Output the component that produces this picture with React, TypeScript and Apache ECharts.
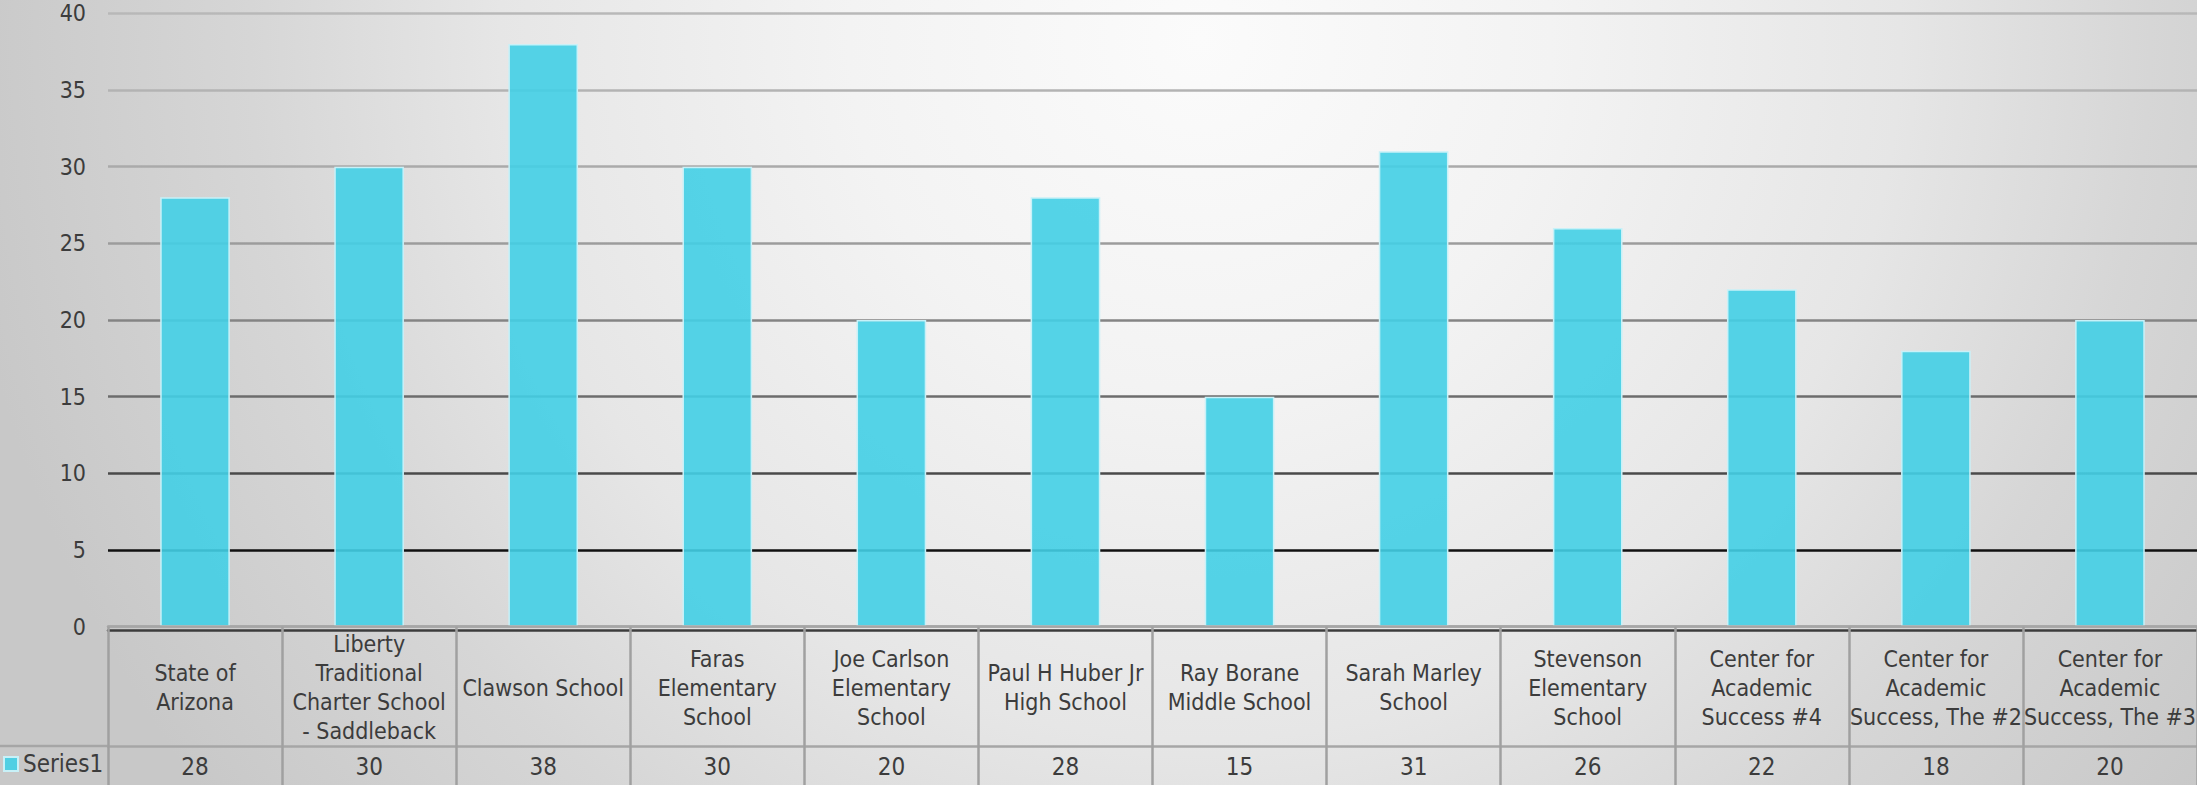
import React, { useEffect, useRef } from 'react';
import * as echarts from 'echarts';

// ---- data ----
const categories = [
  'State of\nArizona',
  'Liberty\nTraditional\nCharter School\n- Saddleback',
  'Clawson School',
  'Faras\nElementary\nSchool',
  'Joe Carlson\nElementary\nSchool',
  'Paul H Huber Jr\nHigh School',
  'Ray Borane\nMiddle School',
  'Sarah Marley\nSchool',
  'Stevenson\nElementary\nSchool',
  'Center for\nAcademic\nSuccess #4',
  'Center for\nAcademic\nSuccess, The #2',
  'Center for\nAcademic\nSuccess, The #3',
];
const values = [28, 30, 38, 30, 20, 28, 15, 31, 26, 22, 18, 20];
const seriesName = 'Series1';
const yMin = 0;
const yMax = 40;
const yStep = 5;
// gridline colours from value 0 upward
const gridColors = ['#a8a8a8', '#111111', '#4a4a4a', '#6c6c6c', '#848484', '#9c9c9c', '#aaaaaa', '#b3b3b3', '#b8b8b8'];

const FONT = '"DejaVu Sans Condensed", "DejaVu Sans", sans-serif';
const TEXT = '#3c3c3c';

export default function App() {
  const ref = useRef<HTMLDivElement>(null);
  useEffect(() => {
    if (!ref.current) return;
    const chart = echarts.init(ref.current, undefined, { renderer: 'svg' });
    chart.setOption({
      animation: false,
      textStyle: { fontFamily: FONT },
      grid: { left: 108, right: 0, top: 13.3, bottom: 158.3, containLabel: false, outerBoundsMode: 'none' },
      legend: {
        data: [{ name: seriesName, icon: 'rect' }],
        left: 3,
        top: 752,
        padding: 0,
        itemWidth: 14,
        itemHeight: 14,
        textStyle: { fontSize: 24, color: TEXT, fontFamily: FONT },
      },
      graphic: [
        { type: 'line', shape: { x1: 0, y1: 746, x2: 108, y2: 746 }, style: { stroke: '#a6a6a6', lineWidth: 2.5 } },
      ],
      xAxis: [
        {
          type: 'category',
          data: categories,
          position: 'bottom',
          z: 3,
          axisLine: { show: true, lineStyle: { color: '#a6a6a6', width: 2.5 } },
          axisTick: { show: true, length: 170, lineStyle: { color: '#a0a0a0', width: 2.5 } },
          axisLabel: {
            interval: 0,
            margin: 61,
            verticalAlign: 'middle',
            align: 'center',
            fontSize: 23,
            lineHeight: 29,
            color: TEXT,
            fontFamily: FONT,
          },
          splitLine: { show: false },
        },
        {
          type: 'category',
          data: categories,
          position: 'bottom',
          offset: 119.3,
          z: 2,
          axisLine: { show: true, lineStyle: { color: '#a6a6a6', width: 2.5 } },
          axisTick: { show: false },
          axisLabel: {
            interval: 0,
            margin: 20.7,
            verticalAlign: 'middle',
            fontSize: 24,
            color: TEXT,
            fontFamily: FONT,
            formatter: (_v: string, i: number) => String(values[i]),
          },
        },
        {
          type: 'category',
          data: categories,
          position: 'bottom',
          offset: 3.5,
          z: 1,
          axisLine: { show: true, lineStyle: { color: '#3c3c3c', width: 2.5 } },
          axisTick: { show: false },
          axisLabel: { show: false },
        },
      ],
      yAxis: {
        type: 'value',
        min: yMin,
        max: yMax,
        interval: yStep,
        axisLine: { show: false },
        axisTick: { show: false },
        axisLabel: { margin: 22, fontSize: 23, color: TEXT, fontFamily: FONT },
        splitLine: { show: true, lineStyle: { color: gridColors, width: 2.5 } },
      },
      series: [
        {
          type: 'bar',
          name: seriesName,
          data: values,
          barWidth: '40%',
          itemStyle: { color: 'rgba(67,207,230,0.9)', borderColor: '#c8f1f8', borderWidth: 1.5 },
        },
      ],
    });
    return () => chart.dispose();
  }, []);
  return (
    <div
      ref={ref}
      style={{
        position: 'absolute',
        left: 0,
        top: 0,
        width: 2197,
        height: 785,
        background:
          'radial-gradient(circle at 1200px 40px, #fbfbfb 0px, #f3f3f3 350px, #e6e6e6 700px, #d6d6d6 950px, #c8c8c8 1250px)',
      }}
    />
  );
}
